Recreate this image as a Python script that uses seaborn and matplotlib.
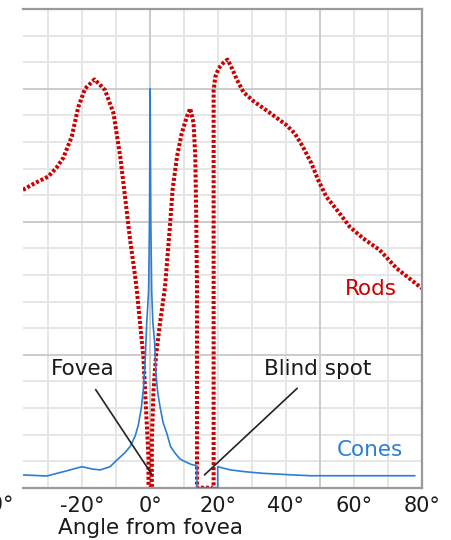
import matplotlib
matplotlib.use("Agg")
import matplotlib.pyplot as plt
import numpy as np
import pandas as pd
import seaborn as sns

# Photoreceptor density across the horizontal meridian (thousands per mm^2)
rods_angle = [-37.5, -34, -30, -27.5, -25.6, -23.1, -21.2, -19.2, -16.4, -14.7,
              -13.3, -10.8, -8.8, -7.4, -5.9, -4.4, -3.9, -2.0, -1.0, -0.5,
              -0.5, 0.5, 0.5, 1.0, 1.7, 2.9, 4.4, 5.9, 6.6, 7.9,
              9.3, 10.8, 11.8, 12.8, 13.3, 13.6, 13.8, 13.8, 18.7, 18.7,
              18.7, 19.2, 20.2, 21.6, 22.8, 24.1, 25.6, 27.5, 30.4, 34.8,
              40.1, 42.6, 45.0, 47.5, 49.5, 51.9, 55.8, 58.8, 62.7, 67.6,
              72.6, 80.0]
rods_density = [112, 114.5, 117, 120.5, 124, 132, 143, 150, 153.5, 151.4,
                149.5, 140.8, 124.4, 109.4, 93.1, 79.3, 74, 49.2, 24.2, 11.7,
                0, 0, 18, 36.7, 49.2, 61.8, 75.6, 99.4, 112, 124.4,
                133.2, 139.5, 142.6, 137, 124.4, 99.4, 75, 0, 0, 124,
                149.5, 154.5, 157.7, 159.8, 161, 157.7, 153.3, 148.7, 145.4, 141.4,
                136.4, 133.2, 128.2, 122, 115.7, 109.4, 103.2, 98.1, 93.8, 89.4,
                82.5, 75]

cones_angle = [-37.5, -30.5, -25, -20.1, -17, -14.7, -11.8, -9.8, -7.4, -5.9,
               -4.4, -3.5, -2.6, -2.0, -1.5, -1.0, -0.45, -0.2, 0, 0.2,
               0.45, 0.8, 1.3, 1.7, 2.2, 2.9, 3.8, 4.9, 6.0, 7.4,
               8.8, 10.3, 12.0, 13.8, 13.8, 19.9, 19.9, 23.6, 28, 33.4,
               42.1, 47.2, 60, 78]
cones_density = [4.8, 4.4, 6.2, 7.9, 7.0, 6.7, 7.9, 10.4, 13.2, 15.5,
                 19.5, 23.5, 30, 37, 47, 62, 74, 100, 150, 100,
                 74, 62, 55, 43, 36, 30.5, 24.5, 20.5, 15.5, 12.9,
                 10.8, 9.8, 8.8, 8.2, 0, 0, 7.9, 6.7, 6.0, 5.4,
                 4.8, 4.5, 4.5, 4.5]

tick_angles = [-20, 0, 20, 40, 60, 80]
tick_labels = ["-20°", "0°", "20°", "40°", "60°", "80°"]

rods_df = pd.DataFrame({"angle": rods_angle, "density": rods_density})
cones_df = pd.DataFrame({"angle": cones_angle, "density": cones_density})

sns.set_style("white")
plt.rcParams["font.family"] = ["DejaVu Sans"]

RED = "#cc0000"
BLUE = "#2a7fd4"
TXT = "#1a1a1a"

fig = plt.figure(figsize=(4.52, 5.4), dpi=100)
ax = fig.add_axes([23 / 452, 1 - 487.7 / 540, 398.7 / 452, 478.7 / 540])
ax.set_xlim(-37.46, 80)
ax.set_ylim(0, 180)

# grid: light lines every 10 units, darker every 50
minor_x = [v for v in range(-30, 80, 10) if v % 50 != 0]
major_x = [0, 50]
minor_y = [v for v in range(10, 180, 10) if v % 50 != 0]
major_y = [50, 100, 150]
ax.vlines(minor_x, 0, 180, color="#e6e6e6", lw=1.4, zorder=0)
ax.hlines(minor_y, -37.46, 80, color="#e6e6e6", lw=1.4, zorder=0)
ax.vlines(major_x, 0, 180, color="#cbcbcb", lw=1.4, zorder=0.5)
ax.hlines(major_y, -37.46, 80, color="#cbcbcb", lw=1.4, zorder=0.5)

sns.lineplot(data=rods_df, x="angle", y="density", ax=ax, estimator=None,
             sort=False, color=RED, lw=2.9, linestyle=(0, (0.75, 0.5)),
             zorder=2)
sns.lineplot(data=cones_df, x="angle", y="density", ax=ax, estimator=None,
             sort=False, color=BLUE, lw=1.2, zorder=3)

for side in ["top", "right", "bottom"]:
    ax.spines[side].set_color("#9a9a9a")
    ax.spines[side].set_linewidth(1.6)
ax.spines["left"].set_visible(False)

ax.set_yticks([])
ax.set_xticks(tick_angles)
ax.set_xticklabels(tick_labels)
ax.tick_params(axis="x", length=0, pad=6, labelsize=15, labelcolor=TXT)
ax.set_ylabel("")
ax.set_xlabel("Angle from fovea", fontsize=15.5, color=TXT)
ax.xaxis.set_label_coords(0.32, -0.0842)
ax.xaxis.label.set_va("center")

fig.text(13 / 452, 1 - 505 / 540, "-40°", ha="right", va="center",
         fontsize=15, color=TXT)

# annotations
ax.annotate("Fovea", xy=(0.5, 5), xytext=(-20, 44.5), ha="center", va="center",
            fontsize=15.5, color=TXT,
            arrowprops=dict(arrowstyle="-", color="#222222", lw=1.2,
                            shrinkA=6, shrinkB=0), zorder=4)
ax.annotate("Blind spot", xy=(16, 4.8), xytext=(49.3, 44.5), ha="center",
            va="center", fontsize=15.5, color=TXT,
            arrowprops=dict(arrowstyle="-", color="#222222", lw=1.2,
                            shrinkA=6, shrinkB=0), zorder=4)
ax.text(65.0, 74.6, "Rods", color=RED, fontsize=15.5, ha="center", va="center")
ax.text(64.8, 14.2, "Cones", color=BLUE, fontsize=15.5, ha="center", va="center")

fig.savefig("out.png", dpi=100)
